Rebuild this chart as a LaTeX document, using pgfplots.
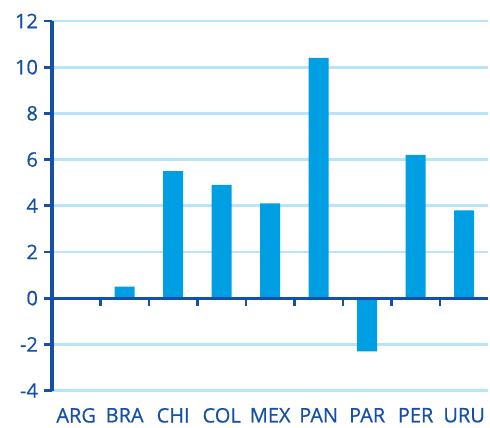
\documentclass[border=0pt]{standalone}
\usepackage{pgfplots}
\pgfplotsset{compat=1.18}
\usepackage{fontspec}
\setmainfont{Open Sans}
\newfontfamily\lblfont{Open Sans}[FakeBold=0.6]
\definecolor{axblue}{RGB}{21,80,168}
\definecolor{barblue}{RGB}{0,159,227}
\definecolor{gridblue}{RGB}{183,228,247}
\begin{document}
\begin{tikzpicture}
\begin{axis}[
  scale only axis, width=437pt, height=370pt,
  xmin=-0.5, xmax=8.5, ymin=-4, ymax=12,
  axis x line*=bottom, axis y line*=left,
  x axis line style={draw=none},
  y axis line style={draw=axblue, line width=3.2pt, -},
  ytick={-4,-2,...,12},
  ymajorgrids, grid style={gridblue, line width=2.8pt},
  ytick align=outside, major tick length=7.5pt,
  ytick style={draw=axblue, line width=2.8pt},
  xtick style={draw=none},
  xtick={0,...,8},
  xticklabels={ARG,BRA,CHI,COL,MEX,PAN,PAR,PER,URU},
  every tick label/.append style={font=\lblfont\fontsize{20}{22}\selectfont, text=axblue},
  /pgf/number format/assume math mode=true,
  yticklabel style={xshift=-3pt},
  xticklabel style={yshift=-14pt},
  clip=false,
]
\addplot[ybar, bar width=20pt, fill=barblue, draw=none] coordinates {
  (0,0) (1,0.5) (2,5.5) (3,4.9) (4,4.1) (5,10.4) (6,-2.3) (7,6.2) (8,3.8)
};
\draw[axblue, line width=3.2pt] (axis cs:-0.5,0) -- (axis cs:8.5,0);
\pgfplotsinvokeforeach{0.5,1.5,...,7.5}{
  \draw[axblue, line width=2.8pt] (axis cs:#1,0) -- ([yshift=-7.5pt]axis cs:#1,0);
}
\path ([xshift=-52pt,yshift=-37pt]rel axis cs:0,0) ([xshift=1pt,yshift=21pt]rel axis cs:1,1);
\end{axis}
\end{tikzpicture}
\end{document}
